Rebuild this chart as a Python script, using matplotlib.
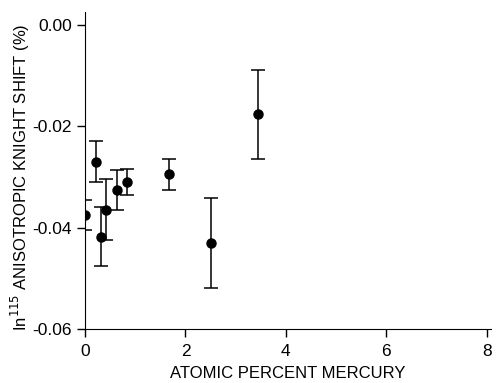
import matplotlib
matplotlib.use("Agg")
from matplotlib import pyplot as plt
import numpy as np

# atomic percent Hg, anisotropic shift (%), error half-width
hg = [0.0, 0.22, 0.31, 0.42, 0.63, 0.83, 1.68, 2.51, 3.44]
shift = [-0.0375, -0.0270, -0.0418, -0.0365, -0.0326, -0.0310, -0.0295, -0.0431, -0.0176]
err = [0.0030, 0.0040, 0.0058, 0.0060, 0.0040, 0.0025, 0.0030, 0.0089, 0.0088]

plt.rcParams['font.family'] = ['Liberation Sans', 'DejaVu Sans']
plt.rcParams['axes.unicode_minus'] = False

fig = plt.figure(figsize=(4.98, 3.83), dpi=100)
ax = fig.add_axes([0.1707, 0.141, 0.815, 0.827])

ax.errorbar(hg, shift, yerr=err, fmt='o', color='black', ms=6.5,
            capsize=5, elinewidth=1.1, capthick=1.1)

ax.set_xlim(0, 8.08)
ax.set_ylim(-0.06, 0.0025)
ax.set_xticks([0, 2, 4, 6, 8])
ax.set_yticks([0.0, -0.02, -0.04, -0.06])
ax.set_yticklabels(["0.00", "-0.02", "-0.04", "-0.06"])
for s in ['top', 'right']:
    ax.spines[s].set_visible(False)
ax.tick_params(direction='out', length=6, labelsize=12.5, width=1)
ax.tick_params(axis='x', pad=5)
ax.set_xlabel("ATOMIC PERCENT MERCURY", fontsize=12, labelpad=5)
ax.set_ylabel(r"In$^{115}$ ANISOTROPIC KNIGHT SHIFT (%)", fontsize=12)
ax.yaxis.set_label_coords(-0.13, 0.48)

fig.savefig("out.png", dpi=100)
